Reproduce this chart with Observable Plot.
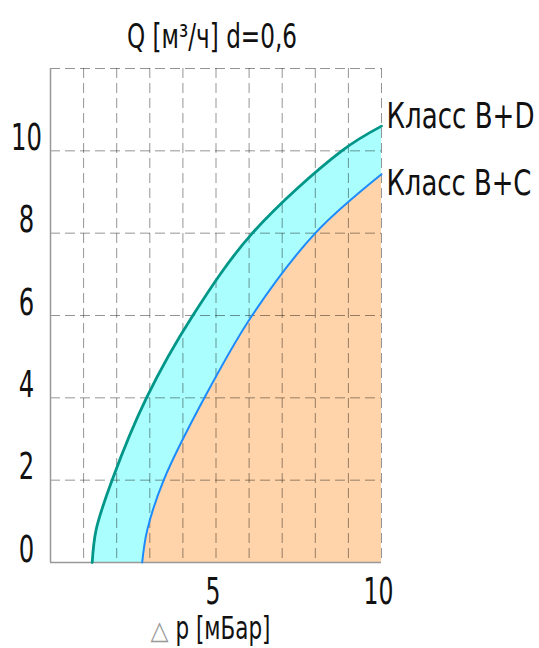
<!DOCTYPE html>
<html>
<head>
<meta charset="utf-8">
<script src="https://cdn.jsdelivr.net/npm/d3@7"></script>
<script src="https://cdn.jsdelivr.net/npm/@observablehq/plot@0.6"></script>
<style>
  html, body { margin: 0; padding: 0; background: #fff; }
  #chart { width: 539px; height: 648px; }
</style>
</head>
<body>
<div id="chart"></div>
<script>
// Δp (mbar) and Q (m³/h)
const pBD = [1.26, 1.38, 1.86, 2.9, 4.3, 6.1, 8.8, 10];
const qBD = [0, 0.8, 2, 4, 6, 8, 10, 10.6];
const pBC = [2.77, 2.92, 3.42, 4.65, 6.09, 8.0, 10];
const qBC = [0, 0.78, 2, 4, 6, 8, 9.43];

const xGrid = [1, 2, 3, 4, 5, 6, 7, 8, 9, 10];
const yGrid = [2, 4, 6, 8, 10, 12];
const xTickLabels = [5, 10];
const yTickLabels = [0, 2, 4, 6, 8, 10];

const titleText = "Q [м³/ч] d=0,6";
const xTitleSymbol = "△";
const xTitleText = "p [мБар]";
const labelBD = "Класс B+D";
const labelBC = "Класс B+C";

const bd = pBD.map((p, i) => ({p, q: qBD[i]}));
const bc = pBC.map((p, i) => ({p, q: qBC[i]}));

const font = "'DejaVu Sans', sans-serif";
const curve = "catmull-rom";

const chart = Plot.plot({
  width: 539,
  height: 648,
  marginLeft: 50,
  marginRight: 158,
  marginTop: 68,
  marginBottom: 86,
  x: {domain: [0, 10], axis: null},
  y: {domain: [0, 12], axis: null},
  style: {fontFamily: font, background: "#fff", color: "#111"},
  marks: [
    Plot.areaY(bd, {x: "p", y: "q", fill: "#aafefe", curve}),
    Plot.areaY(bc, {x: "p", y: "q", fill: "#ffd4aa", curve}),
    Plot.ruleX(xGrid, {stroke: "#000", strokeOpacity: 0.42, strokeWidth: 1, strokeDasharray: "10,5"}),
    Plot.ruleY(yGrid, {stroke: "#000", strokeOpacity: 0.42, strokeWidth: 1, strokeDasharray: "10,5"}),
    Plot.ruleX([0], {stroke: "#999", strokeWidth: 1.5}),
    Plot.ruleY([0], {stroke: "#999", strokeWidth: 1.5}),
    Plot.line(bd, {x: "p", y: "q", stroke: "#009688", strokeWidth: 2.8, curve}),
    Plot.line(bc, {x: "p", y: "q", stroke: "#1a8cff", strokeWidth: 2, curve}),
    Plot.text(yTickLabels, {ariaLabel: () => "ytick", y: d => d, frameAnchor: "left", text: d => String(d), dx: -24, dy: -1,
      textAnchor: "middle", lineAnchor: "bottom", fontSize: 38, fill: "#111"}),
    Plot.text(xTickLabels, {ariaLabel: () => "xtick", x: d => d, frameAnchor: "bottom", text: d => String(d), dx: -3, dy: 41,
      textAnchor: "middle", lineAnchor: "bottom", fontSize: 38, fill: "#111"}),
    Plot.text([labelBD], {ariaLabel: () => "lblD", x: pBD[pBD.length - 1], y: qBD[qBD.length - 1], text: d => d, dx: 5, dy: 2,
      textAnchor: "start", lineAnchor: "bottom", fontSize: 35, fill: "#111"}),
    Plot.text([labelBC], {ariaLabel: () => "lblC", x: pBC[pBC.length - 1], y: qBC[qBC.length - 1], text: d => d, dx: 5, dy: 21,
      textAnchor: "start", lineAnchor: "bottom", fontSize: 35, fill: "#111"}),
    Plot.text([titleText], {ariaLabel: () => "title", frameAnchor: "top", text: d => d, dx: -4, dy: -21,
      textAnchor: "middle", lineAnchor: "bottom", fontSize: 33, fill: "#111"}),
    Plot.text([xTitleSymbol], {ariaLabel: () => "xsym", frameAnchor: "bottom-left", text: d => d, dx: 100, dy: 76,
      textAnchor: "start", lineAnchor: "bottom", fontSize: 26, fill: "#999"}),
    Plot.text([xTitleText], {ariaLabel: () => "xtitle", frameAnchor: "bottom-left", text: d => d, dx: 125, dy: 76,
      textAnchor: "start", lineAnchor: "bottom", fontSize: 32, fill: "#111"})
  ]
});
document.getElementById("chart").appendChild(chart);

// narrow the glyphs (horizontal scale about each text's anchor) to match the condensed drafting lettering
const svg = d3.select(chart);
function squeeze(label, fn) {
  svg.selectAll(`[aria-label="${label}"]`).each(function() {
    const el = this.tagName.toLowerCase() === "text" ? [this] : Array.from(this.querySelectorAll("text"));
    el.forEach(t => {
      const w = t.getComputedTextLength();
      const f = fn(w) / w;
      const x = +t.getAttribute("x") || 0;
      const prev = t.getAttribute("transform") || "";
      t.setAttribute("transform", `${prev} translate(${x},0) scale(${f},1) translate(${-x},0)`.trim());
    });
  });
}
squeeze("ytick", w => w * 0.64);
squeeze("xtick", w => w * 0.62);
squeeze("lblD", () => 148);
squeeze("lblC", () => 145);
squeeze("title", () => 170);
squeeze("xtitle", () => 95);
squeeze("xsym", w => w * 0.9);
</script>
</body>
</html>
